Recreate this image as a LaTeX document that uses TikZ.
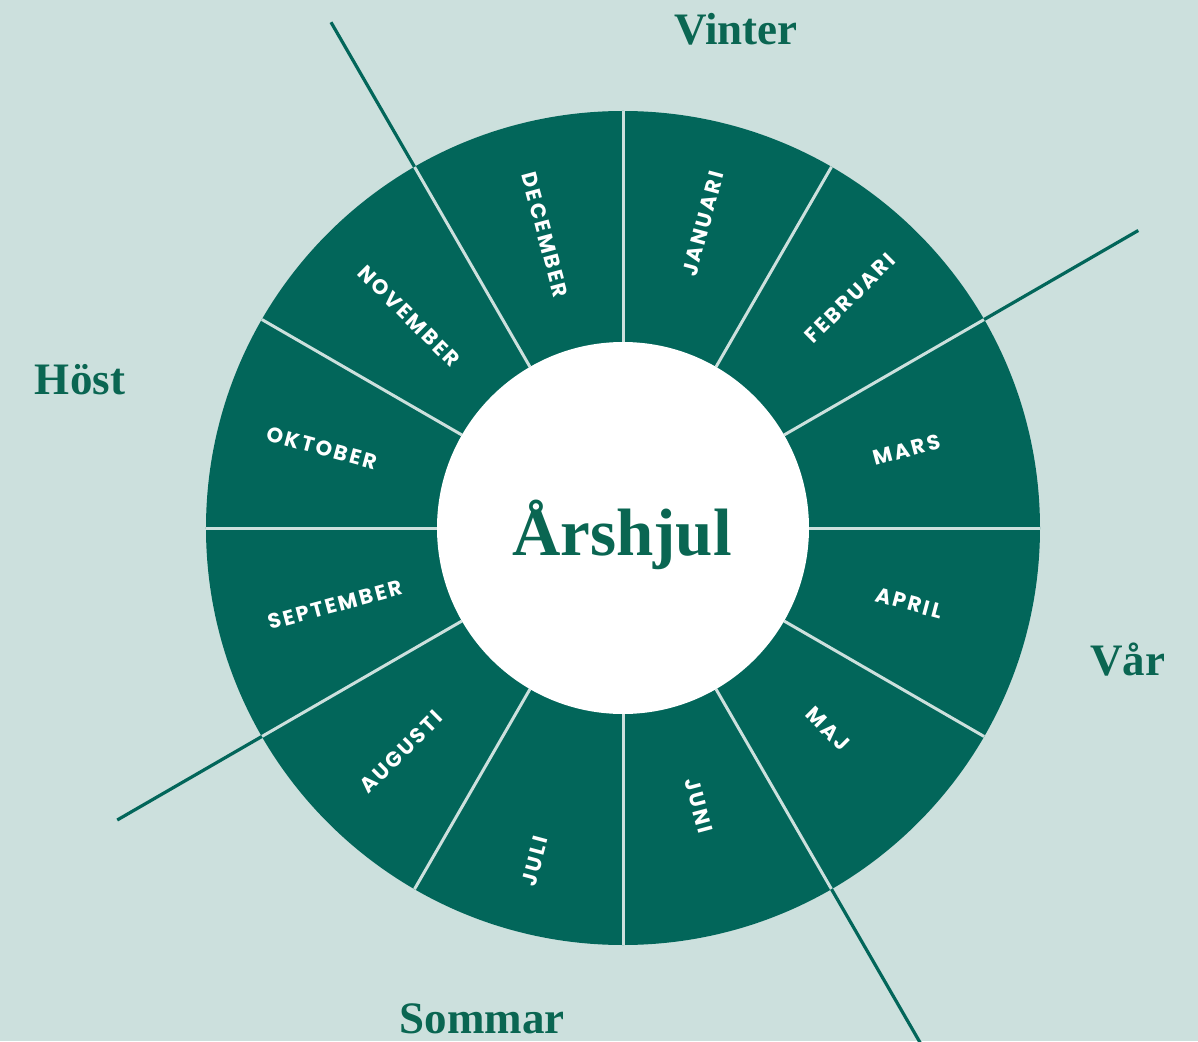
\documentclass[tikz,border=0pt]{standalone}
\usepackage{fontspec}
\setmainfont{Liberation Serif}
\newfontfamily\monthfont{Poppins}[LetterSpace=11]
\definecolor{bg}{HTML}{CCE0DD}
\definecolor{ring}{HTML}{02665A}
\definecolor{ink}{HTML}{0A6652}
\begin{document}
\begin{tikzpicture}[x=1pt,y=1pt,
  month/.style={text=white, font=\monthfont\bfseries\fontsize{21}{21}\selectfont, inner sep=0pt},
  season/.style={text=ink, font=\bfseries\fontsize{45}{45}\selectfont, anchor=base, inner sep=0pt},
  divider/.style={draw=bg, line width=3pt},
  seasonline/.style={draw=ring, line width=3.2pt}]
\fill[bg] (-623,-513) rectangle (575,528);
\useasboundingbox (-623,-513) rectangle (575,528);
\coordinate (c) at (0,0);
\fill[ring] (c) circle (417);
\foreach \a in {0,30,...,330} \draw[divider] (\a:186) -- (\a:417);
\fill[white] (c) circle (186);
% season separators
\coordinate (s1i) at (30:417);  \coordinate (s1o) at (30:595);
\coordinate (s2i) at (120:417); \coordinate (s2o) at (120:584);
\coordinate (s3i) at (210:417); \coordinate (s3o) at (210:584);
\coordinate (s4i) at (300:417); \coordinate (s4o) at (300:600);
\draw[seasonline] (s1i) -- (s1o);
\draw[seasonline] (s2i) -- (s2o);
\draw[seasonline] (s3i) -- (s3o);
\draw[seasonline] (s4i) -- (s4o);
% title
\node[anchor=base, inner sep=0pt, text=ink, font=\bfseries\fontsize{67}{67}\selectfont] (title) at (-1,-27) {Årshjul};
% seasons
\node[season] (vinter) at (113,483) {Vinter};
\node[season] (host) at (-543,133) {Höst};
\node[season] (var) at (504.5,-147) {Vår};
\node[season] (sommar) at (-141,-505) {Sommar};
% months
\node[month, rotate=75] (jan) at (80,304) {JANUARI};
\node[month, rotate=45] (feb) at (227,230) {FEBRUARI};
\node[month, rotate=15] (mar) at (284,78) {MARS};
\node[month, rotate=-15] (apr) at (286,-75) {APRIL};
\node[month, rotate=-45] (maj) at (205,-201) {MAJ};
\node[month, rotate=-75] (jun) at (76,-278) {JUNI};
\node[month, rotate=75] (jul) at (-88,-333) {JULI};
\node[month, rotate=45] (aug) at (-222,-224) {AUGUSTI};
\node[month, rotate=15] (sep) at (-288,-77) {SEPTEMBER};
\node[month, rotate=-15] (okt) at (-301,80) {OKTOBER};
\node[month, rotate=-45] (nov) at (-214,212) {NOVEMBER};
\node[month, rotate=-75] (dec) at (-78,293) {DECEMBER};
\end{tikzpicture}
\end{document}
